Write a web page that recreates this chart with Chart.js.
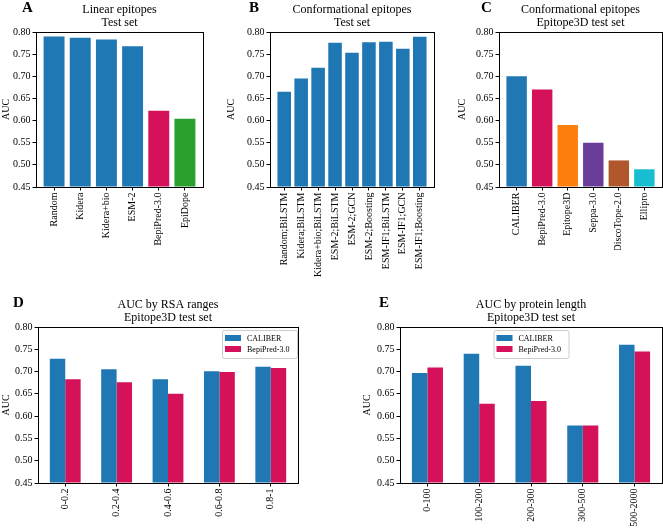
<!DOCTYPE html>
<html>
<head>
<meta charset="utf-8">
<script src="https://cdn.jsdelivr.net/npm/chart.js@4.4.0/dist/chart.umd.min.js"></script>
<style>
  body { margin: 0; background: #fff; width: 663px; height: 529px; position: relative; overflow: hidden; }
  canvas { position: absolute; }
</style>
</head>
<body>
<canvas id="chartA" width="221" height="250" style="left:0;top:0"></canvas>
<canvas id="chartB" width="221" height="290" style="left:221px;top:0"></canvas>
<canvas id="chartC" width="221" height="250" style="left:442px;top:0"></canvas>
<canvas id="chartD" width="330" height="274" style="left:0;top:255px"></canvas>
<canvas id="chartE" width="333" height="274" style="left:330px;top:255px"></canvas>
<script>
// data
const linearModels = ['Random', 'Kidera', 'Kidera+bio', 'ESM-2', 'BepiPred-3.0', 'EpiDope'];
const linearAUC = [0.790, 0.787, 0.783, 0.768, 0.622, 0.604];

const confModels = ['Random;BiLSTM', 'Kidera;BiLSTM', 'Kidera+bio;BiLSTM', 'ESM-2;BiLSTM', 'ESM-2;GCN',
    'ESM-2;Boosting', 'ESM-IF1;BiLSTM', 'ESM-IF1;GCN', 'ESM-IF1;Boosting'];
const confAUC = [0.665, 0.695, 0.719, 0.776, 0.753, 0.777, 0.778, 0.762, 0.789];

const e3dTools = ['CALIBER', 'BepiPred-3.0', 'Epitope3D', 'Seppa-3.0', 'DiscoTope-2.0', 'Ellipro'];
const e3dAUC = [0.700, 0.670, 0.590, 0.550, 0.510, 0.490];

const rsaRanges = ['0-0.2', '0.2-0.4', '0.4-0.6', '0.6-0.8', '0.8-1'];
const rsaCaliber = [0.729, 0.705, 0.683, 0.701, 0.711];
const rsaBepipred = [0.683, 0.676, 0.650, 0.699, 0.708];

const lenRanges = ['0-100', '100-200', '200-300', '300-500', '500-2000'];
const lenCaliber = [0.697, 0.740, 0.713, 0.579, 0.760];
const lenBepipred = [0.709, 0.628, 0.634, 0.579, 0.745];

const yTicks = [0.45, 0.50, 0.55, 0.60, 0.65, 0.70, 0.75, 0.80];

const BLUE = '#1f77b4', PINK = '#d41159', GREEN = '#2ca02c', ORANGE = '#ff7f0e',
    PURPLE = '#6a3d9a', BROWN = '#b0582b', CYAN = '#17becf';

const SERIF = "'Liberation Serif', 'DejaVu Serif', serif";
Chart.defaults.font.family = SERIF;
Chart.defaults.font.size = 10;
Chart.defaults.color = '#000';

// titles, panel letter, box around plot, legend
const panelPlugin = {
    id: 'panel',
    afterDatasetsDraw(chart, args, opts) {
        const ctx = chart.ctx;
        const a = chart.chartArea;
        ctx.save();
        ctx.strokeStyle = '#000';
        ctx.lineWidth = 1;
        ctx.strokeRect(Math.round(a.left) + 0.5, Math.round(a.top) + 0.5,
            Math.round(a.right - a.left), Math.round(a.bottom - a.top));

        ctx.fillStyle = '#000';
        ctx.textAlign = 'center';
        ctx.textBaseline = 'alphabetic';
        ctx.font = '12px ' + SERIF;
        const cx = (a.left + a.right) / 2;
        ctx.fillText(opts.lines[0], cx, a.top - 19);
        ctx.fillText(opts.lines[1], cx, a.top - 6);

        ctx.textAlign = 'left';
        ctx.font = 'bold 15px ' + SERIF;
        ctx.fillText(opts.letter, opts.letterX, a.top - 20);

        if (opts.legend) {
            const w = 75, h = 28;
            const x = opts.legend === 'right' ? a.right - w - 1 : cx - w / 2;
            const y = a.top + 3;
            ctx.fillStyle = 'rgba(255,255,255,0.85)';
            ctx.strokeStyle = '#cccccc';
            ctx.beginPath();
            ctx.roundRect(x + 0.5, y + 0.5, w, h, 2);
            ctx.fill();
            ctx.stroke();
            ctx.font = '8px ' + SERIF;
            ctx.textBaseline = 'middle';
            chart.data.datasets.forEach((ds, i) => {
                const ry = y + 8 + i * 11;
                ctx.fillStyle = ds.backgroundColor;
                ctx.fillRect(x + 3, ry - 3, 16, 6);
                ctx.fillStyle = '#000';
                ctx.fillText(ds.label, x + 25, ry + 0.5);
            });
        }
        ctx.restore();
    }
};

function makeChart(id, p) {
    const n = p.labels.length;
    const half = p.grouped ? 0.3 : 0.4;
    const span = (n - 1) + 2 * half;
    const xmin = -half - 0.05 * span, xmax = n - 1 + half + 0.05 * span;

    const datasets = p.series.map(s => ({
        label: s.label,
        data: s.values.map((v, i) => ({ x: i, y: v })),
        backgroundColor: s.color,
        base: 0.45,
        categoryPercentage: p.grouped ? 0.6 : 0.8,
        barPercentage: 1.0
    }));

    return new Chart(document.getElementById(id), {
        type: 'bar',
        data: { datasets },
        plugins: [panelPlugin],
        options: {
            responsive: false,
            devicePixelRatio: 1,
            animation: false,
            layout: { padding: p.pad },
            plugins: {
                legend: { display: false },
                tooltip: { enabled: false },
                panel: { lines: p.title, letter: p.letter, letterX: p.letterX, legend: p.legend }
            },
            scales: {
                x: {
                    type: 'linear',
                    min: xmin,
                    max: xmax,
                    offset: false,
                    grid: { display: true, offset: false, drawOnChartArea: false, drawTicks: true, tickLength: 3.5, color: '#000' },
                    border: { display: true, color: '#000' },
                    ticks: {
                        autoSkip: false,
                        minRotation: 90,
                        maxRotation: 90,
                        padding: 2,
                        callback: v => p.labels[v]
                    },
                    afterBuildTicks: s => { s.ticks = p.labels.map((_, i) => ({ value: i })); },
                    afterFit: s => { s.height = p.xHeight; s.paddingLeft = 0; s.paddingRight = 0; }
                },
                y: {
                    min: 0.45,
                    max: 0.80,
                    grid: { display: true, drawOnChartArea: false, drawTicks: true, tickLength: 3.5, color: '#000' },
                    border: { display: true, color: '#000' },
                    ticks: { padding: 2, callback: v => v.toFixed(2) },
                    afterBuildTicks: s => { s.ticks = yTicks.map(v => ({ value: v })); },
                    title: { display: true, text: 'AUC', padding: 0, font: { size: 10 } },
                    afterFit: s => { s.width = p.yWidth; s.paddingTop = 0; s.paddingBottom = 0; }
                }
            }
        }
    });
}

makeChart('chartA', {
    labels: linearModels,
    series: [{ label: 'AUC', values: linearAUC, color: [BLUE, BLUE, BLUE, BLUE, PINK, GREEN] }],
    title: ['Linear epitopes', 'Test set'], letter: 'A', letterX: 22,
    pad: { left: 0, top: 32, right: 18, bottom: 0 }, yWidth: 36, xHeight: 63
});

makeChart('chartB', {
    labels: confModels,
    series: [{ label: 'AUC', values: confAUC, color: BLUE }],
    title: ['Conformational epitopes', 'Test set'], letter: 'B', letterX: 28,
    pad: { left: 4, top: 32, right: 8, bottom: 0 }, yWidth: 45, xHeight: 103
});

makeChart('chartC', {
    labels: e3dTools,
    series: [{ label: 'AUC', values: e3dAUC, color: [BLUE, PINK, ORANGE, PURPLE, BROWN, CYAN] }],
    title: ['Conformational epitopes', 'Epitope3D test set'], letter: 'C', letterX: 39,
    pad: { left: 14, top: 32, right: 1, bottom: 0 }, yWidth: 43, xHeight: 63
});

makeChart('chartD', {
    labels: rsaRanges, grouped: true, legend: 'right',
    series: [
        { label: 'CALIBER', values: rsaCaliber, color: BLUE },
        { label: 'BepiPred-3.0', values: rsaBepipred, color: PINK }
    ],
    title: ['AUC by RSA ranges', 'Epitope3D test set'], letter: 'D', letterX: 13,
    pad: { left: 0, top: 72, right: 32, bottom: 0 }, yWidth: 38, xHeight: 46
});

makeChart('chartE', {
    labels: lenRanges, grouped: true, legend: 'center',
    series: [
        { label: 'CALIBER', values: lenCaliber, color: BLUE },
        { label: 'BepiPred-3.0', values: lenBepipred, color: PINK }
    ],
    title: ['AUC by protein length', 'Epitope3D test set'], letter: 'E', letterX: 49,
    pad: { left: 31, top: 72, right: 1, bottom: 0 }, yWidth: 39, xHeight: 46
});
</script>
</body>
</html>
